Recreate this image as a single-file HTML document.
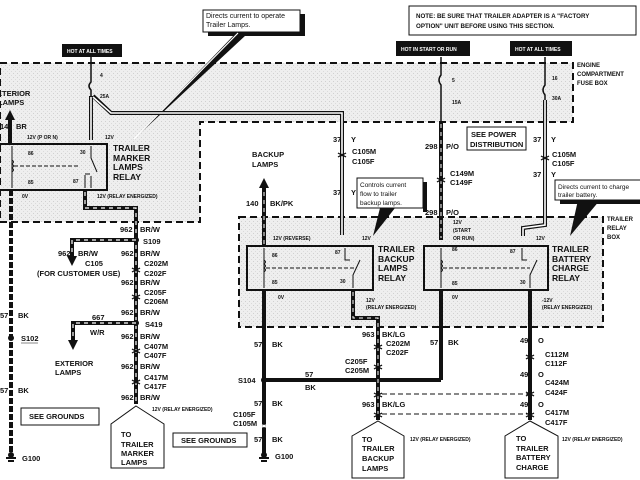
<!DOCTYPE html>
<html><head><meta charset="utf-8"><style>
html,body{margin:0;padding:0;background:#fff}
svg{display:block}
text{font-family:"Liberation Sans",Arial,sans-serif;font-weight:bold;fill:#111}
.s{font-size:5px}
.m{font-size:7.5px}
.l{font-size:8.5px}
.n{font-size:7px;font-weight:normal}
</style></head><body>
<svg width="640" height="480" viewBox="0 0 640 480" xmlns="http://www.w3.org/2000/svg">
<defs>
<pattern id="st" width="4" height="4" patternUnits="userSpaceOnUse"><rect width="4" height="4" fill="#eeeeee"/><rect x="1" y="1" width="1" height="1" fill="#d0d0d0"/><rect x="3" y="3" width="1" height="1" fill="#dadada"/></pattern>
<marker id="ar" markerUnits="userSpaceOnUse" markerWidth="12" markerHeight="12" refX="2" refY="6" orient="auto"><path d="M0,1 L10,6 L0,11 z" fill="#111"/></marker>
</defs>
<!-- fuse box region -->
<path d="M0,63 H573 V122 H200 V222 H0 Z" fill="url(#st)" stroke="#111" stroke-width="2" stroke-dasharray="7,4"/>
<!-- relay box region -->
<rect x="239" y="217" width="364" height="110" fill="url(#st)" stroke="#111" stroke-width="2" stroke-dasharray="7,4"/>

<!-- labels top -->
<rect x="203" y="10" width="97" height="22" fill="#fff" stroke="#111" stroke-width="1"/>
<rect x="300" y="14" width="5" height="21" fill="#111"/><rect x="208" y="32" width="97" height="4" fill="#111"/>
<text class="n" x="206" y="18">Directs current to operate</text>
<text class="n" x="206" y="27">Trailer Lamps.</text>
<path d="M236,33 L133,140 L246,35 Z" fill="#111"/>
<path d="M238,33 L134,139" stroke="#fff" stroke-width="1.2"/>
<rect x="62" y="44" width="60" height="13" fill="#111"/>
<text class="s" x="67" y="53" style="fill:#fff">HOT AT ALL TIMES</text>
<rect x="409" y="6" width="227" height="29" fill="#fff" stroke="#111" stroke-width="1"/>
<text class="s" x="416" y="18" style="font-size:6.2px">NOTE: BE SURE THAT TRAILER ADAPTER IS A "FACTORY</text>
<text class="s" x="416" y="28" style="font-size:6.2px">OPTION" UNIT BEFORE USING THIS SECTION.</text>
<rect x="396" y="41" width="74" height="15" fill="#111"/>
<text class="s" x="401" y="51" style="fill:#fff">HOT IN START OR RUN</text>
<rect x="510" y="41" width="62" height="15" fill="#111"/>
<text class="s" x="515" y="51" style="fill:#fff">HOT AT ALL TIMES</text>
<text class="s" x="577" y="67" style="font-size:6px">ENGINE</text>
<text class="s" x="577" y="76" style="font-size:6px">COMPARTMENT</text>
<text class="s" x="577" y="85" style="font-size:6px">FUSE BOX</text>
<text class="s" x="607" y="221" style="font-size:6px">TRAILER</text>
<text class="s" x="607" y="230" style="font-size:6px">RELAY</text>
<text class="s" x="607" y="239" style="font-size:6px">BOX</text>

<!-- fuses and 37Y wires -->
<path d="M91,57 V82 q-4,4 0,8 V96" stroke="#111" stroke-width="1.5" fill="none"/>
<path d="M91,96 V140 M93,96 L111,113 H342 V235" stroke="#111" stroke-width="4" fill="none"/>
<path d="M91,97 V140 M93,97 L111,113 H342 V235" stroke="#fff" stroke-width="1.6" fill="none"/>
<text class="s" x="100" y="77">4</text><text class="s" x="100" y="98">25A</text>
<path d="M441,57 V75 q-4,5 0,10 V122" stroke="#111" stroke-width="1.5" fill="none"/>
<path d="M441,122 V240" stroke="#111" stroke-width="4"/>
<path d="M441,124 V238" stroke="#fff" stroke-width="1" stroke-dasharray="4,4"/>
<text class="s" x="452" y="82">5</text><text class="s" x="452" y="104">15A</text>
<path d="M545,57 V85 q-4,5 0,10 V120" stroke="#111" stroke-width="1.5" fill="none"/>
<path d="M545,100 V225 L523,228 V236" stroke="#111" stroke-width="4" fill="none"/>
<path d="M545,100 V225 L523,228 V236" stroke="#fff" stroke-width="1.6" fill="none"/>
<text class="s" x="552" y="80">16</text><text class="s" x="552" y="100">30A</text>
<g stroke="#111" stroke-width="1.2" fill="none">
<path d="M338,153 q4,3 8,0 M338,157 q4,-3 8,0"/>
<path d="M437,178 q4,3 8,0 M437,182 q4,-3 8,0"/>
<path d="M541,156 q4,3 8,0 M541,160 q4,-3 8,0"/>
</g>

<rect x="467" y="127" width="59" height="23" fill="#fff" stroke="#111"/>
<text class="m" x="471" y="137">SEE POWER</text>
<text class="m" x="470" y="147">DISTRIBUTION</text>
<text class="m" x="333" y="142">37</text><text class="m" x="351" y="142">Y</text>
<text class="m" x="352" y="154">C105M</text><text class="m" x="352" y="164">C105F</text>
<text class="m" x="333" y="195">37</text><text class="m" x="351" y="195">Y</text>
<text class="m" x="425" y="149">298</text><text class="m" x="446" y="149">P/O</text>
<text class="m" x="450" y="176">C149M</text><text class="m" x="450" y="185">C149F</text>
<text class="m" x="425" y="215">298</text><text class="m" x="446" y="215">P/O</text>
<text class="m" x="533" y="142">37</text><text class="m" x="551" y="142">Y</text>
<text class="m" x="552" y="157">C105M</text><text class="m" x="552" y="166">C105F</text>
<text class="m" x="533" y="177">37</text><text class="m" x="551" y="177">Y</text>

<!-- callouts -->
<path d="M380,208 L373,236 L395,208 Z" fill="#111"/>
<rect x="357" y="178" width="66" height="30" fill="#fff" stroke="#111"/>
<rect x="423" y="182" width="4" height="30" fill="#111"/>
<text class="n" x="360" y="187" style="font-size:6.5px">Controls current</text>
<text class="n" x="360" y="196" style="font-size:6.5px">flow to trailer</text>
<text class="n" x="360" y="205" style="font-size:6.5px">backup lamps.</text>
<path d="M578,200 L570,236 L600,200 Z" fill="#111"/>
<rect x="555" y="180" width="90" height="20" fill="#fff" stroke="#111"/>
<rect x="560" y="200" width="85" height="4" fill="#111"/>
<text class="n" x="558" y="189" style="font-size:6.5px">Directs current to charge</text>
<text class="n" x="558" y="197" style="font-size:6.5px">trailer battery.</text>

<!-- Marker relay -->
<rect x="-2" y="144" width="109" height="46" fill="none" stroke="#111" stroke-width="2"/>
<g stroke="#111" stroke-width="1" fill="none">
<path d="M12,146 V188 M12,160 q3,2 0,4 q3,2 0,4 q3,2 0,4"/>
<path d="M14,166 H80" stroke-dasharray="4,2"/>
<path d="M91,146 V158 L97,172 M85,188 V175 M85,174 h5 M91,176 V188"/>
</g>
<text class="s" x="28" y="155">86</text><text class="s" x="28" y="184">85</text>
<text class="s" x="80" y="154">30</text><text class="s" x="73" y="183">87</text>
<text class="l" x="113" y="151">TRAILER</text><text class="l" x="113" y="161">MARKER</text>
<text class="l" x="113" y="170">LAMPS</text><text class="l" x="113" y="180">RELAY</text>
<text class="s" x="27" y="139">12V (P OR N)</text><text class="s" x="105" y="139">12V</text>
<text class="s" x="22" y="198">0V</text><text class="s" x="97" y="198">12V (RELAY ENERGIZED)</text>
<path d="M10,144 V118" stroke="#111" stroke-width="4" marker-end="url(#ar)"/>
<text class="m" x="-8" y="96">EXTERIOR</text><text class="m" x="-2" y="105">LAMPS</text>
<text class="m" x="0" y="129">14</text><text class="m" x="16" y="129">BR</text>
<path d="M11,190 V455" stroke="#111" stroke-width="4" stroke-dasharray="6,2"/>
<circle cx="11" cy="338" r="3" fill="#111"/>
<text class="m" x="0" y="318">57</text><text class="m" x="18" y="318">BK</text>
<text class="m" x="21" y="341">S102</text><line x1="21" y1="343" x2="38" y2="343" stroke="#111" stroke-width=".6"/>
<text class="m" x="0" y="393">57</text><text class="m" x="18" y="393">BK</text>
<rect x="21" y="408" width="78" height="17" fill="#fff" stroke="#111"/>
<text class="m" x="29" y="419">SEE GROUNDS</text>
<path d="M6,458 h10 M8,461 h6" stroke="#111" stroke-width="2"/><circle cx="11" cy="455" r="3" fill="#111"/>
<text class="m" x="22" y="461">G100</text>

<path d="M85,190 V208 H136 V404" stroke="#111" stroke-width="4" fill="none"/>
<path d="M85,192 V208 H136 V402" stroke="#fff" stroke-width="1.2" stroke-dasharray="4,4" fill="none"/>
<circle cx="136" cy="240" r="3" fill="#111"/><circle cx="136" cy="323" r="3" fill="#111"/>
<path d="M136,240 H72 V258" stroke="#111" stroke-width="4" fill="none" marker-end="url(#ar)"/>
<path d="M136,240 H72 V256" stroke="#fff" stroke-width="1.2" stroke-dasharray="4,4" fill="none"/>
<path d="M136,323 H73 V342" stroke="#111" stroke-width="4" fill="none" marker-end="url(#ar)"/>
<path d="M136,323 H73 V340" stroke="#fff" stroke-width="1.2" stroke-dasharray="4,4" fill="none"/>
<g stroke="#111" stroke-width="1.2" fill="none">
<path d="M132,268 q4,3 8,0 M132,272 q4,-3 8,0"/><path d="M132,295 q4,3 8,0 M132,299 q4,-3 8,0"/>
<path d="M132,349 q4,3 8,0 M132,353 q4,-3 8,0"/><path d="M132,380 q4,3 8,0 M132,384 q4,-3 8,0"/>
</g>
<text class="m" x="120" y="232">962</text><text class="m" x="140" y="232">BR/W</text>
<text class="m" x="143" y="244">S109</text>
<text class="m" x="58" y="256">962</text><text class="m" x="78" y="256">BR/W</text>
<text class="m" x="85" y="266">C105</text>
<text class="m" x="37" y="276">(FOR CUSTOMER USE)</text>
<text class="m" x="121" y="256">962</text><text class="m" x="140" y="256">BR/W</text>
<text class="m" x="144" y="266">C202M</text><text class="m" x="144" y="276">C202F</text>
<text class="m" x="121" y="285">962</text><text class="m" x="140" y="285">BR/W</text>
<text class="m" x="144" y="295">C205F</text><text class="m" x="144" y="304">C206M</text>
<text class="m" x="121" y="315">962</text><text class="m" x="140" y="315">BR/W</text>
<text class="m" x="145" y="327">S419</text>
<text class="m" x="92" y="320">667</text><text class="m" x="90" y="335">W/R</text>
<text class="m" x="55" y="366">EXTERIOR</text><text class="m" x="55" y="375">LAMPS</text>
<text class="m" x="121" y="339">962</text><text class="m" x="140" y="339">BR/W</text>
<text class="m" x="144" y="349">C407M</text><text class="m" x="144" y="358">C407F</text>
<text class="m" x="121" y="369">962</text><text class="m" x="140" y="369">BR/W</text>
<text class="m" x="144" y="380">C417M</text><text class="m" x="144" y="389">C417F</text>
<text class="m" x="121" y="400">962</text><text class="m" x="140" y="400">BR/W</text>
<text class="s" x="152" y="411">12V (RELAY ENERGIZED)</text>
<path d="M136,406 L164,424 V468 H111 V424 Z" fill="#fff" stroke="#111"/>
<text class="m" x="121" y="437">TO</text><text class="m" x="121" y="447">TRAILER</text>
<text class="m" x="121" y="456">MARKER</text><text class="m" x="121" y="465">LAMPS</text>

<!-- Backup relay -->
<rect x="247" y="246" width="126" height="44" fill="none" stroke="#111" stroke-width="2"/>
<g stroke="#111" stroke-width="1" fill="none">
<path d="M264,248 V288 M264,260 q3,2 0,4 q3,2 0,4 q3,2 0,4"/>
<path d="M266,268 H355" stroke-dasharray="4,2"/>
<path d="M345,248 V260 h5 M353,288 V275 L360,260"/>
</g>
<text class="s" x="272" y="257">86</text><text class="s" x="335" y="254">87</text>
<text class="s" x="272" y="284">85</text><text class="s" x="340" y="283">30</text>
<text class="s" x="273" y="240">12V (REVERSE)</text><text class="s" x="362" y="240">12V</text>
<text class="l" x="378" y="252">TRAILER</text><text class="l" x="378" y="262">BACKUP</text>
<text class="l" x="378" y="271">LAMPS</text><text class="l" x="378" y="281">RELAY</text>
<text class="s" x="278" y="299">0V</text><text class="s" x="366" y="302">12V</text>
<text class="s" x="366" y="309">(RELAY ENERGIZED)</text>
<path d="M264,246 V186" stroke="#111" stroke-width="4" marker-end="url(#ar)"/>
<path d="M264,244 V188" stroke="#fff" stroke-width="1" stroke-dasharray="4,4"/>
<text class="m" x="252" y="157">BACKUP</text><text class="m" x="252" y="167">LAMPS</text>
<text class="m" x="246" y="206">140</text><text class="m" x="270" y="206">BK/PK</text>
<path d="M264,290 V455 M264,380 H441 M441,290 V380" stroke="#111" stroke-width="4" fill="none"/>
<circle cx="264" cy="380" r="3" fill="#111"/>
<path d="M260,424 q4,3 8,0 M260,428 q4,-3 8,0" stroke="#fff" stroke-width="1.2" fill="none"/>
<path d="M259,458 h10 M261,461 h6" stroke="#111" stroke-width="2"/><circle cx="264" cy="455" r="3" fill="#111"/>
<text class="m" x="254" y="347">57</text><text class="m" x="272" y="347">BK</text>
<text class="m" x="238" y="383">S104</text>
<text class="m" x="305" y="377">57</text><text class="m" x="305" y="390">BK</text>
<text class="m" x="254" y="406">57</text><text class="m" x="272" y="406">BK</text>
<text class="m" x="233" y="417">C105F</text><text class="m" x="233" y="426">C105M</text>
<text class="m" x="254" y="442">57</text><text class="m" x="272" y="442">BK</text>
<text class="m" x="275" y="459">G100</text>
<rect x="173" y="433" width="74" height="14" fill="#fff" stroke="#111"/>
<text class="m" x="181" y="443">SEE GROUNDS</text>
<text class="m" x="430" y="345">57</text><text class="m" x="448" y="345">BK</text>

<path d="M353,290 V318 H378 V420" stroke="#111" stroke-width="4" fill="none"/>
<path d="M353,292 V318 H378 V418" stroke="#fff" stroke-width="1" stroke-dasharray="4,4" fill="none"/>
<g stroke="#111" stroke-width="1.2" fill="none">
<path d="M374,345 q4,3 8,0 M374,349 q4,-3 8,0"/><path d="M374,365 q4,3 8,0 M374,369 q4,-3 8,0"/>
<path d="M374,393 q4,3 8,0 M374,397 q4,-3 8,0"/><path d="M374,413 q4,3 8,0 M374,417 q4,-3 8,0"/>
<path d="M526,355 q4,3 8,0 M526,359 q4,-3 8,0"/><path d="M526,392 q4,3 8,0 M526,396 q4,-3 8,0"/>
<path d="M526,413 q4,3 8,0 M526,417 q4,-3 8,0"/>
</g>
<path d="M382,394 H528 M382,414 H528" stroke="#111" stroke-width="1" stroke-dasharray="5,3"/>
<text class="m" x="362" y="337">963</text><text class="m" x="382" y="337">BK/LG</text>
<text class="m" x="386" y="346">C202M</text><text class="m" x="386" y="355">C202F</text>
<text class="m" x="345" y="364">C205F</text><text class="m" x="345" y="373">C205M</text>
<text class="m" x="362" y="407">963</text><text class="m" x="382" y="407">BK/LG</text>
<text class="s" x="410" y="441">12V (RELAY ENERGIZED)</text>
<path d="M378,421 L404,436 V478 H352 V436 Z" fill="#fff" stroke="#111"/>
<text class="m" x="362" y="442">TO</text><text class="m" x="362" y="451">TRAILER</text>
<text class="m" x="362" y="461">BACKUP</text><text class="m" x="362" y="471">LAMPS</text>

<!-- Battery charge relay -->
<rect x="424" y="246" width="124" height="44" fill="none" stroke="#111" stroke-width="2"/>
<g stroke="#111" stroke-width="1" fill="none">
<path d="M441,248 V288 M441,260 q3,2 0,4 q3,2 0,4 q3,2 0,4"/>
<path d="M443,268 H530" stroke-dasharray="4,2"/>
<path d="M522,248 V260 h5 M530,288 V275 L537,260"/>
</g>
<text class="s" x="452" y="251">86</text><text class="s" x="510" y="253">87</text>
<text class="s" x="452" y="285">85</text><text class="s" x="520" y="284">30</text>
<text class="s" x="453" y="224">12V</text><text class="s" x="453" y="232">(START</text><text class="s" x="453" y="240">OR RUN)</text>
<text class="s" x="536" y="240">12V</text>
<text class="l" x="552" y="252">TRAILER</text><text class="l" x="552" y="262">BATTERY</text>
<text class="l" x="552" y="271">CHARGE</text><text class="l" x="552" y="281">RELAY</text>
<text class="s" x="452" y="299">0V</text><text class="s" x="542" y="302">-12V</text>
<text class="s" x="542" y="309">(RELAY ENERGIZED)</text>
<path d="M530,290 V420" stroke="#111" stroke-width="4"/>
<text class="m" x="520" y="343">49</text><text class="m" x="538" y="343">O</text>
<text class="m" x="545" y="357">C112M</text><text class="m" x="545" y="366">C112F</text>
<text class="m" x="520" y="377">49</text><text class="m" x="538" y="377">O</text>
<text class="m" x="545" y="385">C424M</text><text class="m" x="545" y="395">C424F</text>
<text class="m" x="520" y="407">49</text><text class="m" x="538" y="407">O</text>
<text class="m" x="545" y="415">C417M</text><text class="m" x="545" y="425">C417F</text>
<text class="s" x="562" y="441">12V (RELAY ENERGIZED)</text>
<path d="M530,421 L558,436 V478 H505 V436 Z" fill="#fff" stroke="#111"/>
<text class="m" x="516" y="441">TO</text><text class="m" x="516" y="451">TRAILER</text>
<text class="m" x="516" y="460">BATTERY</text><text class="m" x="516" y="470">CHARGE</text>
</svg>
</body></html>
